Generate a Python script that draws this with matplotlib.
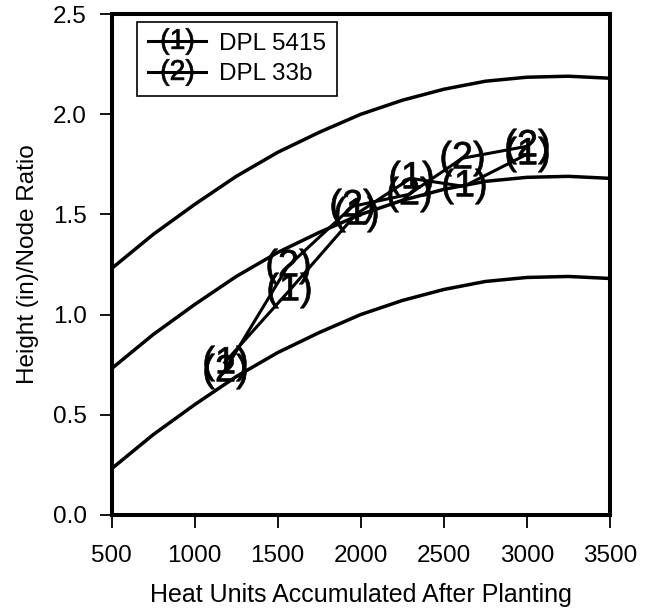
import matplotlib
matplotlib.use("Agg")
import matplotlib.pyplot as plt

plt.rcParams['font.family'] = ['Liberation Sans', 'DejaVu Sans']

# reference curves, every 250 heat units
curve_x = [500, 750, 1000, 1250, 1500, 1750, 2000, 2250, 2500, 2750, 3000, 3250, 3500]
upper_y = [1.23, 1.40, 1.55, 1.69, 1.81, 1.91, 2.00, 2.07, 2.125, 2.165, 2.185, 2.19, 2.18]
middle_y = [0.73, 0.90, 1.05, 1.19, 1.31, 1.41, 1.50, 1.57, 1.625, 1.665, 1.685, 1.69, 1.68]
lower_y = [0.23, 0.40, 0.55, 0.69, 0.81, 0.91, 1.00, 1.07, 1.125, 1.165, 1.185, 1.19, 1.18]

# cultivars
dpl5415_x = [1180, 1570, 1970, 2300, 2620, 3000]
dpl5415_y = [0.76, 1.12, 1.50, 1.68, 1.64, 1.80]
dpl33b_x = [1180, 1560, 1950, 2290, 2610, 3000]
dpl33b_y = [0.72, 1.24, 1.54, 1.60, 1.78, 1.84]

xticks = [500, 1000, 1500, 2000, 2500, 3000, 3500]
yticks = [0.0, 0.5, 1.0, 1.5, 2.0, 2.5]

fig = plt.figure(figsize=(6.53, 6.15), dpi=100)
ax = fig.add_axes([0.171, 0.163, 0.763, 0.814])

for cy in (upper_y, middle_y, lower_y):
    ax.plot(curve_x, cy, color='black', lw=2.5, solid_capstyle='butt')

ax.plot(dpl5415_x, dpl5415_y, color='black', lw=2.2,
        marker=r'$\mathregular{(1)}$', markersize=30, markeredgewidth=0.5,
        label='DPL 5415')
ax.plot(dpl33b_x, dpl33b_y, color='black', lw=2.2,
        marker=r'$\mathregular{(2)}$', markersize=30, markeredgewidth=0.5,
        label='DPL 33b')

ax.set_xlim(500, 3500)
ax.set_ylim(0, 2.5)
ax.set_xticks(xticks)
ax.set_yticks(yticks)
ax.set_yticklabels([f'{v:.1f}' for v in yticks])
ax.tick_params(direction='out', length=9, width=1.3, labelsize=17.5)
ax.tick_params(axis='x', pad=13)
ax.tick_params(axis='y', pad=9)

for sp in ax.spines.values():
    sp.set_linewidth(2.9)

ax.set_xlabel('Heat Units Accumulated After Planting', fontsize=18, labelpad=11)
ax.set_ylabel('Height (in)/Node Ratio', fontsize=17.5, labelpad=10)

leg = ax.legend(loc='upper left', bbox_to_anchor=(0.05, 0.985), borderaxespad=0,
                fontsize=17.5, fancybox=False, edgecolor='black', framealpha=1,
                handlelength=2.4, handletextpad=0.55, markerscale=0.75,
                labelspacing=0.35, borderpad=0.45)
leg.get_frame().set_linewidth(1.2)

fig.savefig('out.png', dpi=100)
